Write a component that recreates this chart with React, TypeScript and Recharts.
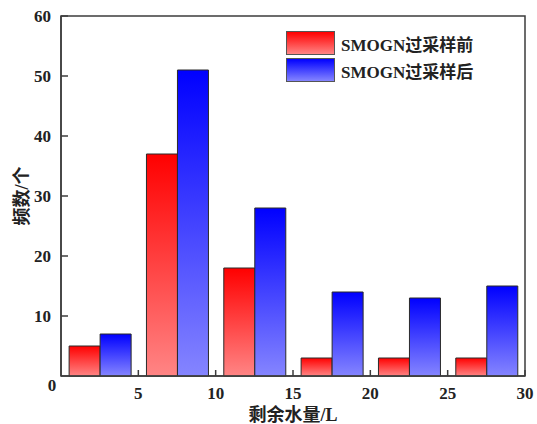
import React from 'react';
import { BarChart, Bar, XAxis, YAxis, Legend, ReferenceArea } from 'recharts';

// histogram bins of remaining water (L)
const bins = ['0-5', '5-10', '10-15', '15-20', '20-25', '25-30'];
const beforeCounts = [5, 37, 18, 3, 3, 3];
const afterCounts = [7, 51, 28, 14, 13, 15];
// upper edge of each bin, labelled on the x axis
const xTicks = [5, 10, 15, 20, 25, 30];
const yTicks = [0, 10, 20, 30, 40, 50, 60];
const seriesNames = ['SMOGN过采样前', 'SMOGN过采样后'];

const data = bins.map((bin, i) => ({ bin, before: beforeCounts[i], after: afterCounts[i] }));

const WIDTH = 537;
const HEIGHT = 424;
const MARGIN = { top: 16, right: 12, left: 11, bottom: 0 };
const Y_AXIS_W = 50;
const BAND = (WIDTH - MARGIN.left - MARGIN.right - Y_AXIS_W) / bins.length;

const FONT = '"Liberation Serif", "Noto Sans CJK SC", serif';
const AXIS = '#3c3c3c';
const TEXT = '#222';

const gradients = [
  { id: 'gradRed', top: '#ff0000', bottom: '#ff8585' },
  { id: 'gradBlue', top: '#0000ff', bottom: '#8585ff' },
];

const YTick = (props: any) => {
  const { x, y, payload } = props;
  const axisX = x + 10;
  const zero = payload.value === 0;
  return (
    <g>
      {!zero && <line x1={axisX} x2={axisX + 7} y1={y} y2={y} stroke={AXIS} strokeWidth={1.5} />}
      <text
        x={zero ? x + 1 : x}
        y={zero ? y + 9 : y}
        textAnchor={zero ? 'middle' : 'end'}
        dominantBaseline="central"
        fontFamily={FONT}
        fontWeight="bold"
        fontSize={17}
        fill={TEXT}
      >
        {payload.value}
      </text>
    </g>
  );
};

// ticks sit on the bin edges, half a band right of the category centre
const XTick = (props: any) => {
  const { x, y, index } = props;
  const edge = x + BAND / 2;
  const axisY = y - 9;
  return (
    <g>
      <line x1={edge} x2={edge} y1={axisY} y2={axisY - 6} stroke={AXIS} strokeWidth={1.5} />
      <text
        x={edge}
        y={y + 8}
        textAnchor="middle"
        dominantBaseline="central"
        fontFamily={FONT}
        fontWeight="bold"
        fontSize={17}
        fill={TEXT}
      >
        {xTicks[index]}
      </text>
    </g>
  );
};

const LegendBox = () => (
  <div style={{ fontFamily: FONT, fontWeight: 'bold', fontSize: 17, color: TEXT }}>
    {seriesNames.map((name, i) => (
      <div key={name} style={{ display: 'flex', alignItems: 'center', height: 24, marginBottom: 3 }}>
        <div
          style={{
            width: 47,
            height: 22,
            border: '1px solid #555',
            background: `linear-gradient(${gradients[i].top}, ${gradients[i].bottom})`,
          }}
        />
        <span style={{ marginLeft: 6, whiteSpace: 'nowrap' }}>{name}</span>
      </div>
    ))}
  </div>
);

export default function App() {
  return (
    <div style={{ position: 'absolute', left: 0, top: 0 }}>
      <BarChart
        width={WIDTH}
        height={HEIGHT}
        data={data}
        margin={MARGIN}
        barCategoryGap="10.5%"
        barGap={0}
      >
        <defs>
          {gradients.map((g) => (
            <linearGradient key={g.id} id={g.id} x1="0" y1="0" x2="0" y2="1">
              <stop offset="0%" stopColor={g.top} />
              <stop offset="100%" stopColor={g.bottom} />
            </linearGradient>
          ))}
        </defs>
        <XAxis
          dataKey="bin"
          interval={0}
          height={48}
          tickSize={0}
          tickMargin={9}
          tick={<XTick />}
          axisLine={{ stroke: AXIS, strokeWidth: 1.5 }}
          label={{
            value: '剩余水量/L',
            position: 'insideBottom',
            offset: 3,
            fontFamily: FONT,
            fontWeight: 'bold',
            fontSize: 18,
            fill: TEXT,
          }}
        />
        <YAxis
          domain={[0, 60]}
          ticks={yTicks}
          width={Y_AXIS_W}
          tickSize={0}
          tickMargin={10}
          tick={<YTick />}
          axisLine={{ stroke: AXIS, strokeWidth: 1.5 }}
          label={{
            value: '频数/个',
            content: ({ viewBox }: any) => (
              <text
                x={viewBox.x + 11}
                y={viewBox.y + viewBox.height / 2}
                transform={`rotate(-90 ${viewBox.x + 11} ${viewBox.y + viewBox.height / 2})`}
                textAnchor="middle"
                dominantBaseline="central"
                fontFamily={FONT}
                fontWeight="bold"
                fontSize={18}
                fill={TEXT}
              >
                频数/个
              </text>
            ),
          }}
        />
        {/* frame around the plot area */}
        <ReferenceArea y1={0} y2={60} fill="none" stroke={AXIS} strokeWidth={1.5} />
        {/* middle/center legend takes no room from the plot; placed inside the frame */}
        <Legend
          layout="horizontal"
          verticalAlign="middle"
          align="center"
          content={<LegendBox />}
          wrapperStyle={{ position: 'absolute', left: 286, top: 31, width: 'auto' }}
        />
        <Bar
          dataKey="before"
          name={seriesNames[0]}
          fill="url(#gradRed)"
          stroke="#2a2a2a"
          strokeWidth={1}
          isAnimationActive={false}
        />
        <Bar
          dataKey="after"
          name={seriesNames[1]}
          fill="url(#gradBlue)"
          stroke="#2a2a2a"
          strokeWidth={1}
          isAnimationActive={false}
        />
      </BarChart>
    </div>
  );
}
